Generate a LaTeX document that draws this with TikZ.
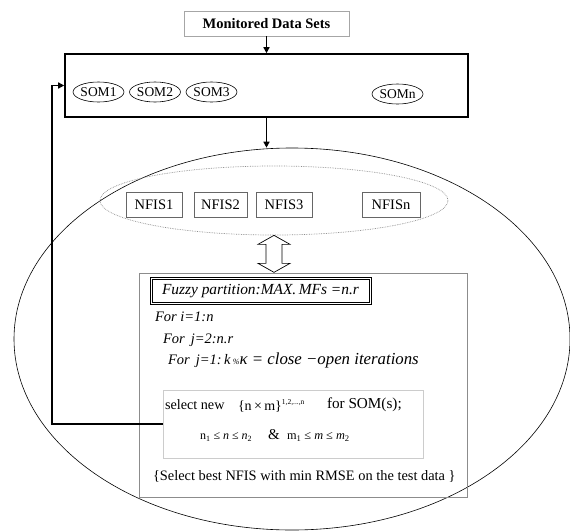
\documentclass[tikz,border=0pt]{standalone}
\usepackage{fontspec}
\setmainfont{Liberation Serif}
\usetikzlibrary{arrows.meta,shapes.geometric}
\newcommand\myfs[1]{\fontsize{#1}{#1}\selectfont}
\begin{document}
\begin{tikzpicture}[x=1pt,y=-1pt,
  txt/.style={inner sep=0pt,outer sep=0pt,anchor=west},
  graybox/.style={draw=black!35,line width=0.8pt,inner sep=0pt},
  somnode/.style={draw,ellipse,line width=0.6pt,inner sep=0pt,minimum height=20pt,font=\myfs{13.5}},
  nfisbox/.style={draw=black!60,line width=0.8pt,inner sep=0pt,minimum height=25pt,font=\myfs{14.5}},
  thickarrow/.style={line width=1.4pt,-{Triangle[length=6pt,width=6pt]}},
]
\useasboundingbox (0,0) rectangle (570,530);
\fill[white] (0,0) rectangle (570,530);

% top
\node[graybox,minimum width=165pt,minimum height=25pt,font=\bfseries\myfs{14.5}] (mds) at (266.5,23.5) {Monitored Data Sets};
\node[draw,line width=1.6pt,minimum width=403pt,minimum height=63pt,inner sep=0pt] (main) at (266.5,85.5) {};
\node[somnode,minimum width=45pt] (som1) at (98.5,92) {SOM1};
\node[somnode,minimum width=44pt] (som2) at (155,92) {SOM2};
\node[somnode,minimum width=45pt] (som3) at (211.5,92) {SOM3};
\node[somnode,minimum width=51pt] (somn) at (397.5,94) {SOMn};

% big ellipse
\node[draw,ellipse,line width=0.6pt,minimum width=556pt,minimum height=382pt,inner sep=0pt] (big) at (292,339) {};

% NFIS group
\node[draw=black!45,densely dotted,ellipse,line width=0.7pt,minimum width=348pt,minimum height=69pt,inner sep=0pt] (nfisell) at (274,200.5) {};
\node[nfisbox,minimum width=56pt] (nfis1) at (154,204.5) {NFIS1};
\node[nfisbox,minimum width=53pt] (nfis2) at (220.5,204.5) {NFIS2};
\node[nfisbox,minimum width=56pt] (nfis3) at (284,204.5) {NFIS3};
\node[nfisbox,minimum width=58pt] (nfisn) at (391,204.5) {NFISn};

% inner box
\node[draw=black!45,line width=1pt,minimum width=328pt,minimum height=224pt,inner sep=0pt] (inner) at (303,385) {};

% hollow double arrow
\draw[line width=0.7pt,fill=white] (nfisell.south) -- ++(16,9) -- ++(-8,0) -- ++(0,19) -- ++(8,0) -- ++(-16,9)
  -- ++(-16,-9) -- ++(8,0) -- ++(0,-19) -- ++(-8,0) -- cycle;

% fuzzy partition box
\node[draw,double,double distance=1.4pt,line width=0.7pt,minimum width=219pt,minimum height=25pt,inner sep=0pt] (fuzzy) at (261,291) {};
\node[txt,font=\itshape\myfs{15.4}] (fuzzyt) at (162,291) {Fuzzy partition:MAX.\,MFs =n.r};

\node[txt,font=\itshape\myfs{14.5}] (fori) at (155,317) {For i=1:n};
\node[txt,font=\itshape\myfs{14.5}] (forj) at (163,340) {For \,j=2:n.r};
\node[txt,font=\itshape\myfs{14.5}] (fork) at (168,360) {For \,j=1:\,k\,{\myfs{8}\%}{\myfs{16.8}κ = close −open iterations}};

% select box
\node[draw=black!20,line width=0.8pt,minimum width=260pt,minimum height=68pt,inner sep=0pt] (sel) at (293,424) {};
\node[txt,font=\myfs{14.2}] (selt) at (165,405) {select new};
\node[txt,font=\myfs{14}] (nm) at (238,406) {\{n\,×\,m\}\raisebox{6pt}{\myfs{7.5}1,2,...,n}};
\node[txt,font=\myfs{15.2}] (forsom) at (327,405) {for SOM(s);};
\node[txt,font=\myfs{12}] (nrange) at (200,437) {n\textsubscript{1} ≤ \textit{n} ≤ \textit{n}\textsubscript{2}};
\node[txt,font=\myfs{15}] (amp) at (268,435) {\&};
\node[txt,font=\myfs{12.3}] (mrange) at (287,437) {m\textsubscript{1} ≤ \textit{m} ≤ \textit{m}\textsubscript{2}};

\node[txt,font=\myfs{14.4}] (best) at (153,476) {\{Select best NFIS with min RMSE on the test data \}};

% connectors
\draw[thickarrow] (mds.south) -- (main.north);
\draw[thickarrow] (main.south) -- (main.south |- big.north);
\coordinate (fb) at (52,300);
\draw[thickarrow] (sel.west) -| (fb) |- (main.west);
\end{tikzpicture}
\end{document}
